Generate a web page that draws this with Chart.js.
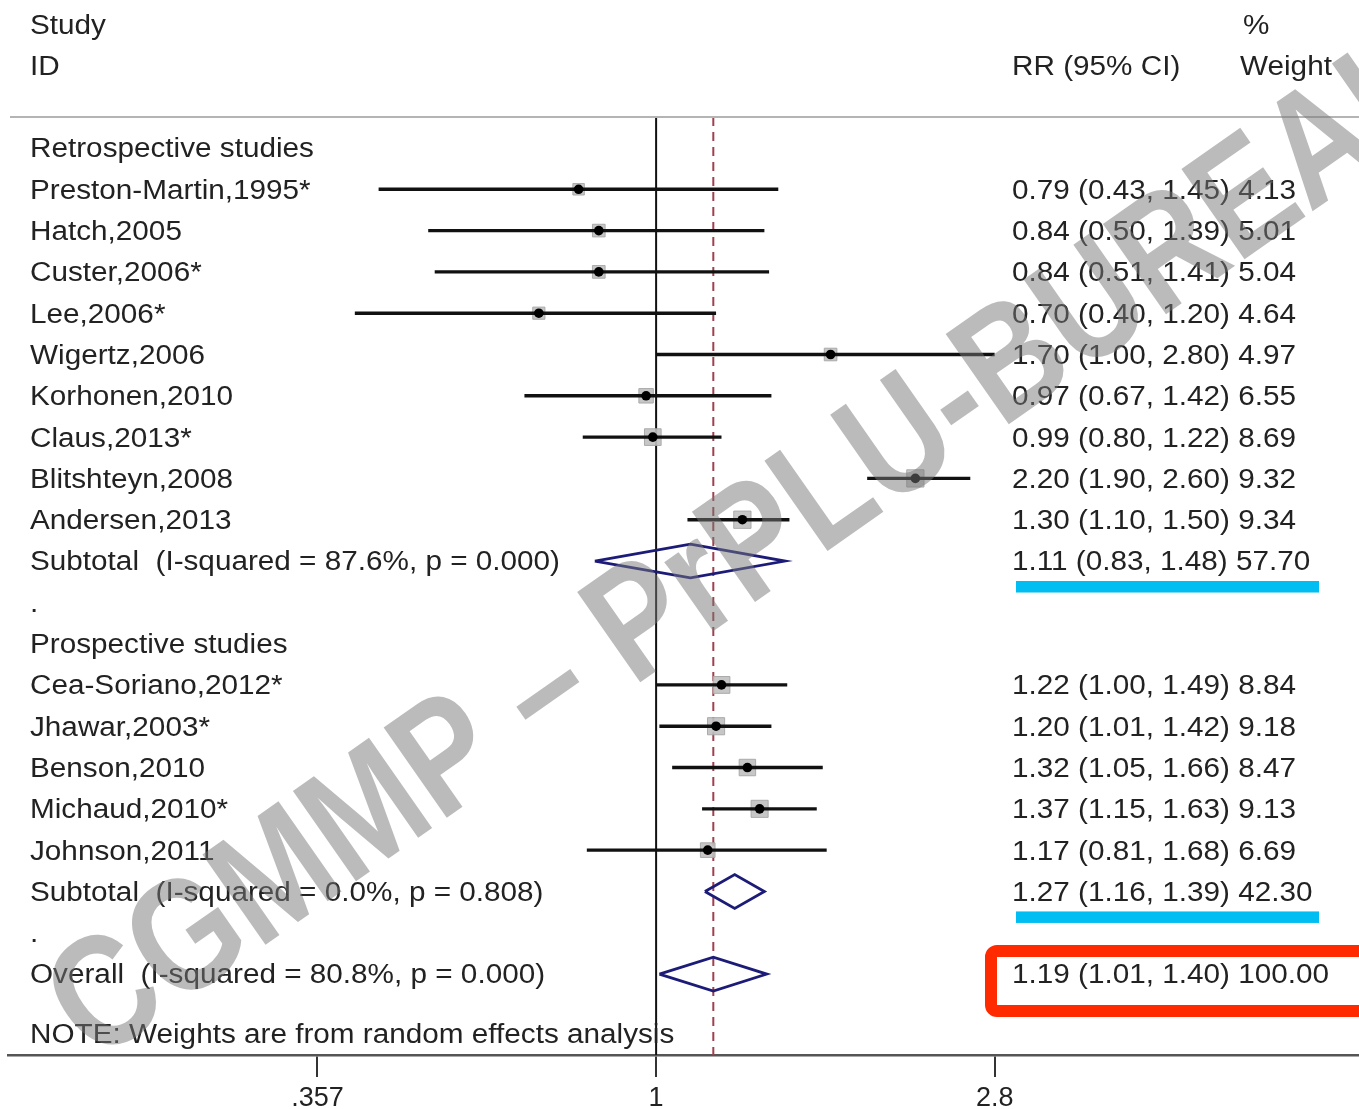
<!DOCTYPE html>
<html>
<head>
<meta charset="utf-8">
<script src="https://cdn.jsdelivr.net/npm/chart.js@4/dist/chart.umd.min.js"></script>
<style>
html,body{margin:0;padding:0;background:#fff;overflow:hidden;}
#c{display:block;}
</style>
</head>
<body>
<canvas id="c" width="1359" height="1109"></canvas>
<script>
// ---------- data ----------
const retroStudies = ['Preston-Martin,1995*','Hatch,2005','Custer,2006*','Lee,2006*','Wigertz,2006','Korhonen,2010','Claus,2013*','Blitshteyn,2008','Andersen,2013'];
const retroRR     = [0.79,0.84,0.84,0.70,1.70,0.97,0.99,2.20,1.30];
const retroLow    = [0.43,0.50,0.51,0.40,1.00,0.67,0.80,1.90,1.10];
const retroHigh   = [1.45,1.39,1.41,1.20,2.80,1.42,1.22,2.60,1.50];
const retroWeight = [4.13,5.01,5.04,4.64,4.97,6.55,8.69,9.32,9.34];

const prospStudies = ['Cea-Soriano,2012*','Jhawar,2003*','Benson,2010','Michaud,2010*','Johnson,2011'];
const prospRR     = [1.22,1.20,1.32,1.37,1.17];
const prospLow    = [1.00,1.01,1.05,1.15,0.81];
const prospHigh   = [1.49,1.42,1.66,1.63,1.68];
const prospWeight = [8.84,9.18,8.47,9.13,6.69];

const groupNames     = ['Retrospective studies','Prospective studies'];
const subtotalRR     = [1.11,1.27];
const subtotalLow    = [0.83,1.16];
const subtotalHigh   = [1.48,1.39];
const subtotalWeight = [57.70,42.30];
const subtotalHet    = ['I-squared = 87.6%, p = 0.000','I-squared = 0.0%, p = 0.808'];

const overallRR = 1.19, overallLow = 1.01, overallHigh = 1.40, overallWeight = 100.00;
const overallHet = 'I-squared = 80.8%, p = 0.000';
const noteText = 'NOTE: Weights are from random effects analysis';

const xTicks      = [0.357, 1, 2.8];
const xTickLabels = ['.357','1','2.8'];

const watermark = 'CGMMP – PrPLU-BUREAU';

// ---------- row structure ----------
const rows = [];
let r = 0;
const groups = [
  {studies:retroStudies, rr:retroRR, lo:retroLow, hi:retroHigh, w:retroWeight},
  {studies:prospStudies, rr:prospRR, lo:prospLow, hi:prospHigh, w:prospWeight}
];
groups.forEach((g,gi)=>{
  rows.push({type:'header', label:groupNames[gi], y:r++});
  g.studies.forEach((s,i)=>rows.push({type:'study', label:s, rr:g.rr[i], lo:g.lo[i], hi:g.hi[i], w:g.w[i], y:r++}));
  rows.push({type:'subtotal', label:'Subtotal  ('+subtotalHet[gi]+')', rr:subtotalRR[gi], lo:subtotalLow[gi], hi:subtotalHigh[gi], w:subtotalWeight[gi], y:r++});
  rows.push({type:'dot', label:'.', y:r++});
});
rows.push({type:'overall', label:'Overall  ('+overallHet+')', rr:overallRR, lo:overallLow, hi:overallHigh, w:overallWeight, y:r++});
const noteRow = r + 0.45;

const FONT = "'Liberation Sans', Arial, Helvetica, sans-serif";
const TXT = '#222';
const DIAM_H = 0.41;

// ---------- datasets ----------
const datasets = [];
const studies = rows.filter(o=>o.type==='study');
const pooled = rows.filter(o=>o.type==='subtotal'||o.type==='overall');

datasets.push({
  type:'scatter', order:0,
  data: studies.map(o=>({x:o.rr, y:o.y})),
  pointStyle:'circle', pointRadius:4.8, backgroundColor:'#000', borderColor:'#000', borderWidth:0
});
studies.forEach(o=>datasets.push({
  type:'line', order:1, showLine:true,
  data:[{x:o.lo,y:o.y},{x:o.hi,y:o.y}],
  borderColor:'#111', borderWidth:3.4, pointRadius:0, fill:false
}));
datasets.push({
  type:'scatter', order:2,
  data: studies.map(o=>({x:o.rr, y:o.y, w:o.w})),
  pointStyle:'rect',
  pointRadius: ctx => Math.sqrt(ctx.raw ? ctx.raw.w : 1) * 4.0,
  backgroundColor:'rgba(192,192,192,0.9)', borderColor:'rgba(165,165,165,0.9)', borderWidth:1
});
pooled.forEach(o=>datasets.push({
  type:'line', order:1, showLine:true,
  data:[{x:o.lo,y:o.y},{x:o.rr,y:o.y-DIAM_H},{x:o.hi,y:o.y},{x:o.rr,y:o.y+DIAM_H},{x:o.lo,y:o.y}],
  borderColor:'#1c1c78', borderWidth:2.8, pointRadius:0, fill:false, tension:0
}));
datasets.push({
  type:'line', order:3, showLine:true,
  data:[{x:1,y:-0.75},{x:1,y:21.96}],
  borderColor:'#111', borderWidth:2, pointRadius:0
});
datasets.push({
  type:'line', order:3, showLine:true,
  data:[{x:overallRR,y:-0.75},{x:overallRR,y:21.96}],
  borderColor:'#a0404f', borderWidth:2, borderDash:[9,6], pointRadius:0
});

// ---------- text & annotations ----------
function sText(ctx, s, x, y, size, color){
  ctx.save();
  ctx.font = size + 'px ' + FONT;
  ctx.fillStyle = color || TXT;
  ctx.textBaseline = 'middle';
  ctx.textAlign = 'left';
  ctx.translate(x, y + 2);
  ctx.scale(1.1, 1);
  ctx.fillText(s, 0, 0);
  ctx.restore();
}
const textPlugin = {
  id:'forestText',
  afterDatasetsDraw(chart){
    const ctx = chart.ctx, ys = chart.scales.y, ca = chart.chartArea;
    const LX = 30, RX = 1012, FS = 27;
    ctx.save();
    ctx.strokeStyle = '#b4b4b4'; ctx.lineWidth = 2;
    ctx.beginPath(); ctx.moveTo(10, ca.top); ctx.lineTo(chart.width, ca.top); ctx.stroke();
    ctx.restore();
    sText(ctx, 'Study', LX, ys.getPixelForValue(-3), FS);
    sText(ctx, 'ID', LX, ys.getPixelForValue(-2), FS);
    sText(ctx, '%', 1243, ys.getPixelForValue(-3), FS);
    sText(ctx, 'RR (95% CI)', RX, ys.getPixelForValue(-2), FS);
    sText(ctx, 'Weight', 1240, ys.getPixelForValue(-2), FS);
    rows.forEach(o=>{
      const py = ys.getPixelForValue(o.y);
      sText(ctx, o.label, LX, py, FS);
      if (o.rr !== undefined){
        const s = o.rr.toFixed(2)+' ('+o.lo.toFixed(2)+', '+o.hi.toFixed(2)+') '+o.w.toFixed(2);
        sText(ctx, s, RX, py, FS);
      }
      if (o.type==='subtotal'){
        ctx.save(); ctx.fillStyle = '#00bdf2';
        ctx.fillRect(1016, py + 20, 303, 11.5);
        ctx.restore();
      }
      if (o.type==='overall'){
        ctx.save(); ctx.strokeStyle = '#ff2a00'; ctx.lineWidth = 12;
        const x0 = 991, y0 = py - 23, x1 = 1380, y1 = py + 37, rad = 6;
        ctx.beginPath();
        ctx.moveTo(x1, y0); ctx.lineTo(x0+rad, y0); ctx.arcTo(x0, y0, x0, y0+rad, rad);
        ctx.lineTo(x0, y1-rad); ctx.arcTo(x0, y1, x0+rad, y1, rad); ctx.lineTo(x1, y1);
        ctx.stroke(); ctx.restore();
      }
    });
    sText(ctx, noteText, LX, ys.getPixelForValue(noteRow), FS);
  },
  afterDraw(chart){
    const ctx = chart.ctx;
    ctx.save();
    ctx.translate(95, 1064);
    ctx.rotate(-35 * Math.PI/180);
    ctx.scale(0.83, 1);
    ctx.font = 'bold 160px ' + FONT;
    ctx.fillStyle = 'rgba(120,120,120,0.5)';
    ctx.textBaseline = 'alphabetic';
    ctx.fillText(watermark, 0, 0);
    ctx.restore();
  }
};

new Chart(document.getElementById('c'), {
  type:'scatter',
  data:{datasets},
  plugins:[textPlugin],
  options:{
    responsive:false, animation:false, devicePixelRatio:1,
    layout:{autoPadding:false, padding:{left:8, right:0, top:117, bottom:0}},
    plugins:{legend:{display:false}, tooltip:{enabled:false}},
    scales:{
      x:{
        type:'logarithmic', min:0.1393, max:8.48, bounds:'data', position:'bottom',
        afterBuildTicks: s => { s.ticks = xTicks.map(v=>({value:v})); },
        afterFit: s => { s.height = 54; s.paddingLeft = 0; s.paddingRight = 0; },
        ticks:{ callback:(v,i)=>xTickLabels[i], font:{size:27, family:FONT}, color:TXT, padding:5, maxRotation:0, autoSkip:false },
        grid:{ display:true, drawOnChartArea:false, drawTicks:true, tickLength:22, color:'#333', lineWidth:2 },
        border:{ display:true, color:'#555', width:2.5 }
      },
      y:{ type:'linear', reverse:true, min:-0.75, max:21.96, display:false }
    }
  }
});
</script>
</body>
</html>
